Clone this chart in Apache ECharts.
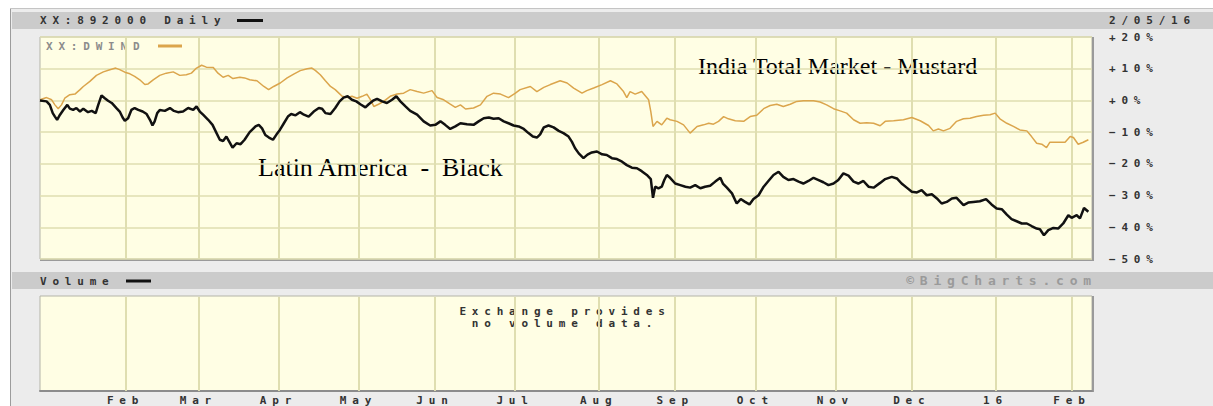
<!DOCTYPE html>
<html>
<head>
<meta charset="utf-8">
<script src="https://cdn.jsdelivr.net/npm/echarts@6/dist/echarts.min.js"></script>
<style>
  html, body { margin: 0; padding: 0; background: #fff; }
  #chart { width: 1213px; height: 406px; }
  /* the BigCharts bitmap font is very wide, spread the mono glyphs out */
  #chart text[style*="Mono"] { letter-spacing: 5.8px; }
</style>
</head>
<body>
<div id="chart"></div>
<script>
// x = trading day counted from 1 Jan 2015, y = % change
const monthDays = [22, 42, 64, 86, 107, 129, 152, 173, 195, 217, 238, 261, 282]
const monthLabels = ['Feb', 'Mar', 'Apr', 'May', 'Jun', 'Jul', 'Aug', 'Sep', 'Oct', 'Nov', 'Dec', '16', 'Feb']

const latinAmerica = [
  [-1.5, 0], [0.3, -0.3], [1.2, -1.4], [2, -4], [2.6, -5.1], [3.2, -6.1], [4, -4.5], [4.9, -3], [6, -1.4], [6.7, -2.6],
  [7.6, -3], [8.5, -2.4], [9.5, -3.5], [10.4, -2.6], [11.7, -3.7], [12.7, -3.3], [13.8, -4], [14.5, -1.4], [15.4, 1.6], [16.3, 0.7],
  [17.2, -0.1], [18.2, -0.8], [19.5, -2.4], [20.4, -3.5], [21.2, -5.4], [21.8, -6.4], [22.7, -5.6], [23.6, -3], [24.5, -2.4], [25.5, -3],
  [26.7, -3.5], [27.8, -4.3], [28.7, -6.1], [29.4, -7.9], [30, -6.6], [30.7, -4], [31.4, -3], [32.8, -3.3], [34.2, -2.4], [35.3, -3.3],
  [36.4, -3.7], [37.8, -3.5], [39.2, -2.4], [40.6, -3], [41.5, -1.9], [42.4, -3.5], [43.3, -4.5], [44.7, -6.1], [45.9, -7.7], [47, -10.3],
  [47.9, -12.4], [48.8, -12.8], [49.7, -11.4], [50.6, -13.2], [51.4, -14.9], [52.5, -13.5], [53.6, -13.8], [54.7, -12.4], [56.1, -10],
  [57.7, -8.2], [58.6, -7.7], [59.5, -8.8], [60.4, -10.9], [61.4, -11.7], [62.5, -12.4], [63.5, -10.7], [64.4, -9.3], [65.5, -7.2], [66.6, -5.1],
  [67.5, -4.3], [68.7, -4.7], [69.9, -3.7], [71, -4.5], [72.3, -5.1], [73.7, -3.5], [75.1, -2.4], [76, -2.6], [76.9, -4], [78.3, -4.3],
  [79.6, -2.4], [80.8, -0.3], [81.9, 0.9], [83, 1.3], [84.2, 0.2], [85.4, -0.3], [86.5, -1.2], [87.9, -2.2], [88.8, -1.2], [90, -0.1],
  [91.1, 0.5], [92.5, -0.3], [93.8, -0.8], [95.2, 0.2], [96.4, 1.3], [97.5, -0.3], [98.9, -1.9], [100.2, -3.3], [102.1, -4.5], [103.9, -6.6],
  [105.7, -7.9], [107.1, -7.7], [108.5, -6.6], [109.8, -7.7], [111.2, -9], [112.6, -8.2], [114, -7.2],
  [115.8, -7.5], [117.6, -7.7], [119, -6.6], [120.4, -5.6], [121.8, -5.4], [123.1, -5.8], [124.5, -5.6], [125.9, -6.6], [127.2, -7.2], [128.6, -7.9],
  [130, -8.2], [131.4, -9], [132.7, -10.3], [133.9, -11.4], [135, -11.7], [135.9, -10.7], [136.9, -8.5], [138.2, -7.9], [139.6, -8.5], [141, -9.6],
  [142.3, -10.3], [143.7, -11.4], [144.6, -13], [145.5, -15.1], [146.5, -16.7], [147.8, -18.2], [148.9, -17.1], [150.1, -16.4], [151.5, -16.1], [152.9, -17],
  [154.2, -17.2], [155.6, -18.2], [157, -18.5], [158.4, -19.3], [159.7, -20.4], [161.1, -21.2], [162.5, -21.4], [163.8, -22.3], [165.2, -23.5], [166.3, -24.8],
  [166.9, -30.7], [167.5, -27.2], [168.4, -27.7], [169.3, -27.2], [170, -25.1], [170.7, -23.5], [171.6, -24.4],
  [173, -26.2], [174.4, -26.7], [175.8, -27.2], [177.1, -27.5], [178.5, -26.7], [179.9, -27.7], [181.2, -27.2], [182.6, -26.9], [184, -25.6], [185.4, -24.4],
  [186.1, -26.2], [187.2, -27.5], [188.6, -29.3], [189.9, -32.5], [191, -31.1], [192.2, -32], [193.4, -32.8], [194.5, -31.1], [195.9, -29.9], [197.3, -27.2],
  [198.6, -25.4], [200, -23.5], [201.4, -22.5], [202.7, -24.1], [204.1, -25.1], [205.5, -24.8], [206.9, -25.6], [208.2, -26.2], [209.6, -25.4], [211, -24.4],
  [212.4, -25.1], [213.7, -25.8], [215.1, -26.7], [216.5, -26.2], [217.8, -25.1], [219.2, -23], [220.6, -23.7], [222, -25.6], [223.3, -26.2], [224.7, -25.4],
  [226.1, -27.2], [227.5, -27.5], [229.3, -26],
  [230.7, -24.8], [232.5, -24.1], [233.9, -24.6], [235.2, -26.2], [236.6, -27.5], [238, -28.8], [239.4, -29], [240.7, -28.3], [242.1, -29.9], [243.5, -29.6],
  [244.9, -30.9], [246.2, -32.5], [247.6, -32], [249, -30.9], [250.3, -30.7], [252.2, -33], [253.5, -32.2], [254.9, -32], [256.7, -31.8], [258.4, -31.1],
  [259.9, -32.8], [261.3, -34.1], [262.7, -34.3], [264.1, -36], [265.4, -37.4], [266.8, -38.1], [268.2, -38.8], [269.6, -38.8], [270.9, -39.6], [272.3, -40.4],
  [273.2, -40.6], [274.3, -42.5], [275.5, -40.9], [276.9, -40.2], [278.2, -40.4], [279.6, -38.8], [281, -36.2], [281.9, -37], [283.3, -36.2], [284.2, -37.2],
  [285.3, -33.9], [286.5, -35.1]
]

const indiaTotal = [
  [-1.5, 0.2], [0.3, 0.9], [1.7, 0.2], [2.6, -1.4], [3.5, -2.6], [4.4, -1.4], [5.3, 0.7], [6.7, 1.8], [8.1, 2], [9.5, 3.4],
  [10.4, 4.4], [12.2, 6], [14, 7.9], [15.9, 9], [17.7, 9.7], [19.3, 10.2], [20.4, 9.7], [21.8, 8.9], [23.2, 8.4], [24.5, 7.6],
  [25.9, 6.5], [27.3, 5], [28.2, 5.2], [29.6, 6.5], [31.4, 7.9], [33.2, 8.6], [35.1, 9], [36.9, 7.9], [38.7, 8.1], [40.1, 8.6],
  [41.5, 10.2], [42.9, 11.1], [44.2, 10.5], [46.1, 10.4], [47.4, 8.6], [48.8, 7.3], [50.2, 7.9], [51.5, 6.9], [53.4, 7.3], [54.7, 7.1], [56.1, 6.5],
  [58.1, 6.2], [60, 4.4], [61.3, 3.4], [62.7, 4.4], [64.5, 5.5], [66.4, 7.1], [68.2, 8.3], [70, 9.4], [71.9, 10], [73.2, 10.2],
  [74.2, 9.4], [75.5, 8.1], [76.9, 6.2], [78.3, 4.4], [79.6, 3.4], [80.6, 2.3], [81.5, 1.3], [82.9, 0.9], [84.2, 1.3], [85.6, 0.7],
  [87, 1.3], [88.3, 2], [89.3, 0.2], [90.2, -1.9], [91.5, -1.2], [92.9, -0.3], [94.7, 1.3], [96.6, 2], [98.4, 2.3], [100.2, 3.4],
  [102.1, 2.8], [103.9, 2.3], [106.2, 3.1], [107.6, 0.9], [109.4, 0.2], [111.2, -1.2], [112.6, -2.2], [114, -1.4],
  [115.4, -2.7], [117.6, -2.4], [119.5, -1.4], [121.3, 1.3], [123.1, 2.3], [125, 2], [127.2, 0.9], [129.1, 2.3], [130.4, 3.4], [133.2, 4.4],
  [135, 2.8], [136.9, 4.1], [138.7, 5], [141.4, 6.2], [143.3, 5.5], [145.1, 3.9], [147.4, 2.3], [148.7, 3.1], [150.6, 3.9], [152.9, 5],
  [155.2, 6.2], [157, 5.2], [158.8, 2.8], [159.7, 0.9], [160.6, 2.8], [162, 2], [163.8, 2.8], [165.7, 0.2], [166.3, -3.5], [166.9, -8.2],
  [168, -6.6], [169.3, -7.7], [170.7, -5.6],
  [171.6, -6.1], [173.5, -6.6], [175.3, -7.7], [177.1, -10.3], [179, -8.2], [180.8, -7.7], [182.2, -7.2], [183.5, -7.5], [184.9, -6.6], [186.3, -5.1],
  [187.6, -5.8], [189.5, -6.4], [191.8, -6.6], [193.6, -5.1], [195.4, -4.7], [197.3, -2.6], [199.1, -1.6], [200.9, -1.2], [202.7, -1.9], [204.6, -1.2],
  [206.4, -0.3], [208.2, -0.1], [211, -0.1], [212.8, -0.5], [214.6, -1.4], [216.5, -2.6], [218.3, -3.3], [220.1, -4], [222, -6.1], [223.8, -7.2],
  [225.6, -7], [227.5, -7.2], [229.3, -8],
  [230.7, -6.6], [233, -6.4], [235.7, -6.1], [238, -5.4], [240.3, -6.4], [242.6, -7.9], [243.9, -9.6], [245.3, -9], [246.7, -9.6], [248.5, -8.8],
  [250.3, -6.6], [252.2, -5.8], [254, -5.6], [255.8, -5.1], [257.7, -4.7], [259.5, -4.5], [260.9, -4], [262.2, -5.8], [264.1, -7.2], [265.9, -8.2],
  [267.7, -9.3], [269.6, -9.6], [270.9, -11.4], [272.3, -13.5], [273.7, -13.8], [275, -14.9], [275.9, -13.2], [277.8, -13.2], [280.1, -13.2], [281.5, -11.4],
  [282.4, -11.7], [283.7, -13.8], [285.1, -13.2], [286.5, -12.4]
]

const mono = '"DejaVu Sans Mono", monospace'
const serif = '"Liberation Serif", "Times New Roman", serif'
const gridColor = '#dfdeb0'
const plotBg = '#fffee4'

const chart = echarts.init(document.getElementById('chart'), null, { renderer: 'svg' })

chart.setOption({
  animation: false,
  backgroundColor: '#ececec',
  grid: [
    { left: 40, top: 37, width: 1052, height: 222, show: true, backgroundColor: plotBg, borderColor: '#b4b4a8', borderWidth: 1 },
    { left: 40, top: 296, width: 1052, height: 95, show: true, backgroundColor: plotBg, borderColor: '#b4b4a8', borderWidth: 1 }
  ],
  xAxis: [
    {
      gridIndex: 0,
      type: 'value',
      min: -1.5,
      max: 287.5,
      axisLine: { show: false, onZero: false },
      axisLabel: { show: false },
      splitLine: { show: false },
      axisTick: { show: true, inside: true, length: 222, customValues: monthDays, lineStyle: { color: gridColor, width: 2 } }
    },
    {
      gridIndex: 1,
      type: 'value',
      min: -1.5,
      max: 287.5,
      axisLine: { show: true, onZero: false, lineStyle: { color: '#8c8c8c', width: 2 } },
      splitLine: { show: false },
      axisTick: { show: true, inside: true, length: 94, customValues: monthDays, lineStyle: { color: gridColor, width: 2 } },
      axisLabel: {
        show: true,
        customValues: monthDays,
        margin: 4,
        fontFamily: mono,
        fontSize: 11,
        fontWeight: 'bold',
        color: '#333',
        formatter: function (v) {
          return monthLabels[monthDays.indexOf(v)]
        }
      }
    }
  ],
  yAxis: [
    {
      gridIndex: 0,
      type: 'value',
      position: 'right',
      min: -50,
      max: 20,
      interval: 10,
      axisLine: { show: false },
      axisTick: { show: false },
      splitLine: { show: true, lineStyle: { color: gridColor, width: 1.5 } },
      axisLabel: {
        margin: 17,
        fontFamily: mono,
        fontSize: 11,
        fontWeight: 'bold',
        color: '#333',
        formatter: function (v) {
          return (v < 0 ? '\u2212' : '+') + Math.abs(v) + '%'
        }
      }
    },
    { gridIndex: 1, type: 'value', min: 0, max: 1, show: false }
  ],
  series: [
    {
      name: 'XX:DWIND',
      type: 'line',
      xAxisIndex: 0,
      yAxisIndex: 0,
      data: indiaTotal,
      symbol: 'none',
      lineStyle: { color: '#dba54c', width: 1.5 },
      z: 3
    },
    {
      name: 'XX:892000 Daily',
      type: 'line',
      xAxisIndex: 0,
      yAxisIndex: 0,
      data: latinAmerica,
      symbol: 'none',
      lineStyle: { color: '#111', width: 2.5 },
      z: 4
    }
  ],
  graphic: [
    // white page margin and panel edges
    { type: 'rect', shape: { x: 0, y: 0, width: 1213, height: 8 }, style: { fill: '#fff' } },
    { type: 'rect', shape: { x: 0, y: 0, width: 10, height: 406 }, style: { fill: '#fff' } },
    { type: 'line', shape: { x1: 10.5, y1: 8, x2: 10.5, y2: 406 }, style: { stroke: '#9c9c9c', lineWidth: 1 } },
    { type: 'line', shape: { x1: 10, y1: 8.5, x2: 1213, y2: 8.5 }, style: { stroke: '#c4c4c4', lineWidth: 1 } },
    // header bands
    { type: 'rect', shape: { x: 12, y: 12, width: 1201, height: 17 }, style: { fill: '#cbcbcb' } },
    { type: 'rect', shape: { x: 12, y: 272, width: 1201, height: 17 }, style: { fill: '#cbcbcb' } },
    // right and bottom shade of the price panel
    { type: 'line', shape: { x1: 1093, y1: 37, x2: 1093, y2: 260 }, style: { stroke: '#9a9a9a', lineWidth: 2 } },
    { type: 'line', shape: { x1: 40, y1: 260, x2: 1094, y2: 260 }, style: { stroke: '#9a9a9a', lineWidth: 2 } },
    { type: 'line', shape: { x1: 1093, y1: 296, x2: 1093, y2: 392 }, style: { stroke: '#9a9a9a', lineWidth: 2 } },
    // top band
    { type: 'text', x: 40, y: 20.5, style: { text: 'XX:892000 Daily', fontFamily: mono, fontSize: 11, fontWeight: 'bold', fill: '#333', verticalAlign: 'middle' } },
    { type: 'rect', shape: { x: 237, y: 19, width: 26, height: 3 }, style: { fill: '#111' } },
    { type: 'text', x: 1109, y: 20.5, style: { text: '2/05/16', fontFamily: mono, fontSize: 11, fontWeight: 'bold', fill: '#333', verticalAlign: 'middle' } },
    // legend of the mustard line
    { type: 'text', x: 46, y: 46, style: { text: 'XX:DWIND', fontFamily: mono, fontSize: 11, fontWeight: 'bold', fill: '#8c8c8c', verticalAlign: 'middle' } },
    { type: 'rect', shape: { x: 158, y: 44.5, width: 24, height: 3 }, style: { fill: '#dba54c' } },
    // annotations
    { type: 'text', x: 698, y: 66.2, style: { text: 'India Total Market - Mustard', fontFamily: serif, fontSize: 24, fill: '#000', verticalAlign: 'middle' } },
    { type: 'text', x: 258, y: 167, style: { text: 'Latin America  -  Black', fontFamily: serif, fontSize: 26, fill: '#000', verticalAlign: 'middle' } },
    // volume band
    { type: 'text', x: 40, y: 281, style: { text: 'Volume', fontFamily: mono, fontSize: 11, fontWeight: 'bold', fill: '#333', verticalAlign: 'middle' } },
    { type: 'rect', shape: { x: 126, y: 279.5, width: 25, height: 3 }, style: { fill: '#111' } },
    { type: 'text', x: 1097, y: 280.5, style: { text: '\u00a9BigCharts.com', fontFamily: mono, fontSize: 13, fontWeight: 'bold', fill: '#9a9a9a', align: 'right', verticalAlign: 'middle' } },
    { type: 'text', x: 565, y: 317.5, style: { text: 'Exchange provides\nno volume data.', fontFamily: mono, fontSize: 11, fontWeight: 'bold', lineHeight: 11.5, fill: '#333', align: 'center', verticalAlign: 'middle' } }
  ]
})
window.addEventListener('resize', function () {
  chart.resize()
})
</script>
</body>
</html>
